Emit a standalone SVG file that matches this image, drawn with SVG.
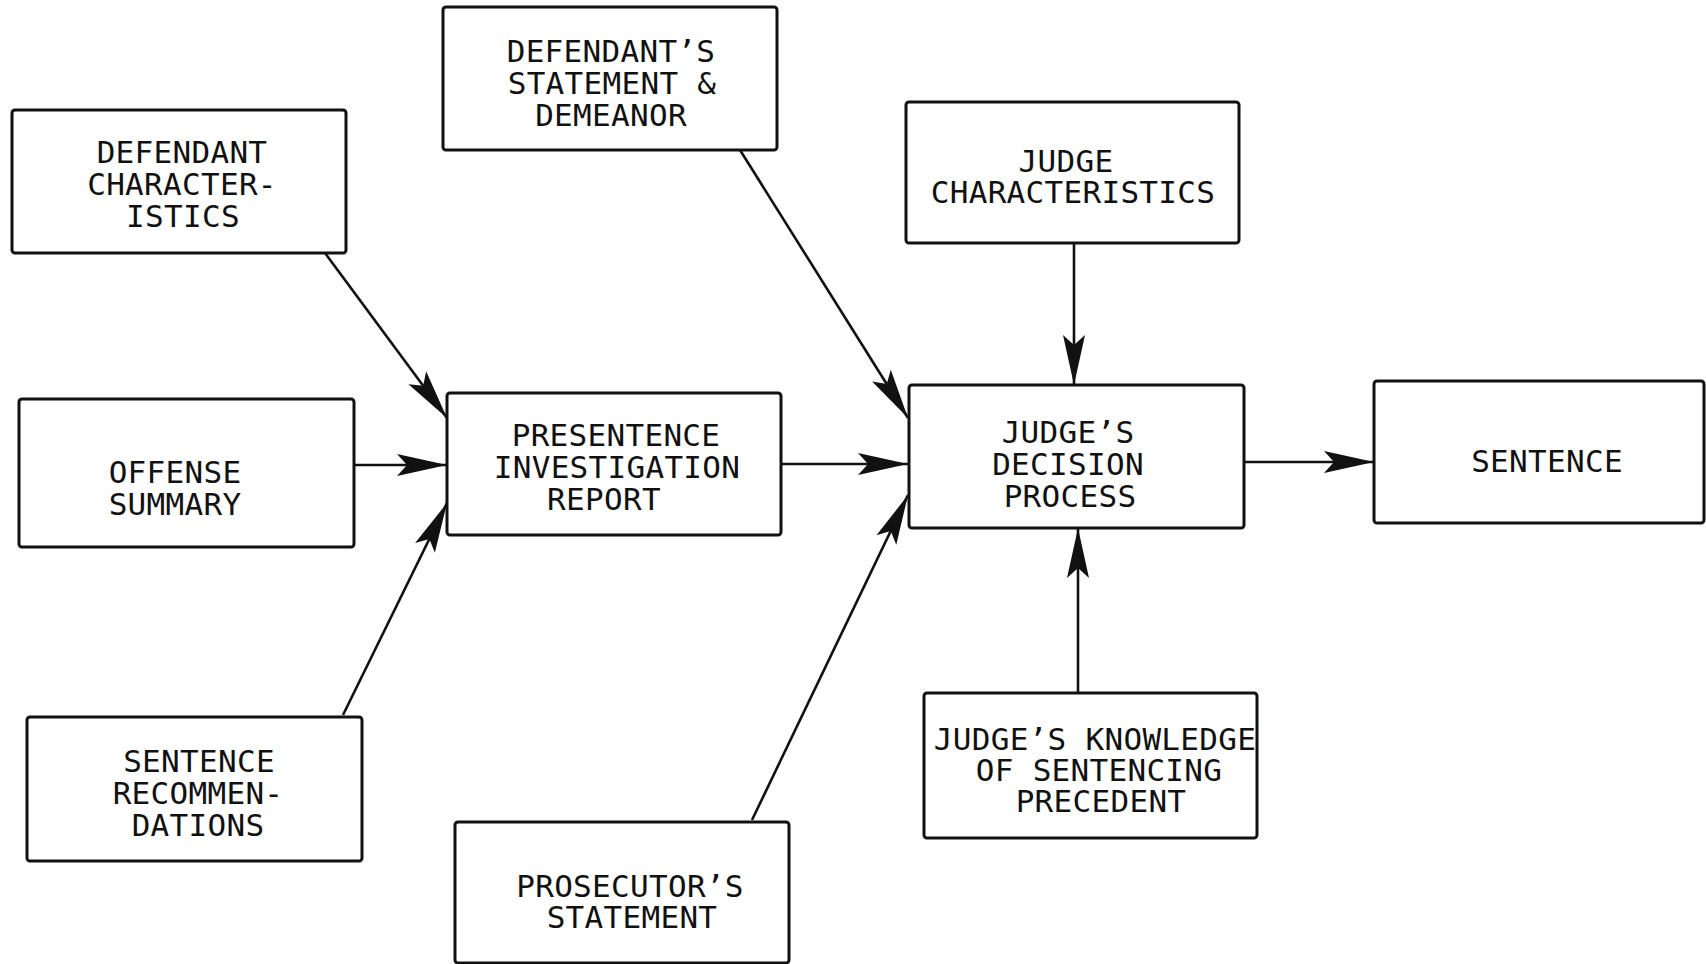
<svg xmlns="http://www.w3.org/2000/svg" width="1706" height="964" viewBox="0 0 1706 964">
<style>
.box{fill:#fff;stroke:#111;stroke-width:3;}
.t{font-family:"DejaVu Sans Mono","Liberation Mono",monospace;font-size:31px;fill:#111;text-anchor:middle;letter-spacing:0.3px;}
.c{stroke:#111;stroke-width:2.6;fill:none;marker-end:url(#ah);}
</style>
<defs>
<marker id="ah" markerUnits="userSpaceOnUse" markerWidth="52" markerHeight="22" refX="50" refY="11" orient="auto" overflow="visible">
<path d="M50,11 L0,0 L10,11 L0,22 Z" fill="#111"/>
</marker>
</defs>
<rect width="1706" height="964" fill="#fff"/>
<g id="connectors">
<line class="c" x1="325" y1="253" x2="447" y2="418"/>
<line class="c" x1="354" y1="465" x2="447" y2="465"/>
<line class="c" x1="343" y1="715" x2="447" y2="503"/>
<line class="c" x1="740" y1="150" x2="908" y2="418"/>
<line class="c" x1="781" y1="464" x2="908" y2="464"/>
<line class="c" x1="752" y1="820" x2="908" y2="495"/>
<line class="c" x1="1074" y1="243" x2="1074" y2="385"/>
<line class="c" x1="1078" y1="693" x2="1078" y2="528"/>
<line class="c" x1="1244" y1="462" x2="1374" y2="462"/>
</g>
<g id="defendant-characteristics">
<rect class="box" x="12" y="110" width="334" height="143" rx="3"/>
<text class="t" x="182" y="163">DEFENDANT</text>
<text class="t" x="182" y="195">CHARACTER-</text>
<text class="t" x="183" y="227">ISTICS</text>
</g>
<g id="offense-summary">
<rect class="box" x="19" y="399" width="335" height="148" rx="3"/>
<text class="t" x="175" y="483">OFFENSE</text>
<text class="t" x="175" y="515">SUMMARY</text>
</g>
<g id="sentence-recommendations">
<rect class="box" x="27" y="717" width="335" height="144" rx="3"/>
<text class="t" x="199" y="772">SENTENCE</text>
<text class="t" x="198" y="804">RECOMMEN-</text>
<text class="t" x="198" y="836">DATIONS</text>
</g>
<g id="defendants-statement">
<rect class="box" x="443" y="7" width="334" height="143" rx="3"/>
<text class="t" x="611" y="62">DEFENDANT’S</text>
<text class="t" x="612" y="94">STATEMENT &amp;</text>
<text class="t" x="611" y="126">DEMEANOR</text>
</g>
<g id="presentence-report">
<rect class="box" x="447" y="393" width="334" height="142" rx="3"/>
<text class="t" x="616" y="446">PRESENTENCE</text>
<text class="t" x="617" y="478">INVESTIGATION</text>
<text class="t" x="604" y="510">REPORT</text>
</g>
<g id="prosecutors-statement">
<rect class="box" x="455" y="822" width="334" height="141" rx="3"/>
<text class="t" x="630" y="897">PROSECUTOR’S</text>
<text class="t" x="632" y="928">STATEMENT</text>
</g>
<g id="judge-characteristics">
<rect class="box" x="906" y="102" width="333" height="141" rx="3"/>
<text class="t" x="1066" y="172">JUDGE</text>
<text class="t" x="1073" y="203">CHARACTERISTICS</text>
</g>
<g id="judges-decision-process">
<rect class="box" x="909" y="385" width="335" height="143" rx="3"/>
<text class="t" x="1068" y="443">JUDGE’S</text>
<text class="t" x="1068" y="475">DECISION</text>
<text class="t" x="1070" y="507">PROCESS</text>
</g>
<g id="judges-knowledge">
<rect class="box" x="924" y="693" width="333" height="145" rx="3"/>
<text class="t" x="1095" y="750">JUDGE’S KNOWLEDGE</text>
<text class="t" x="1099" y="781">OF SENTENCING</text>
<text class="t" x="1101" y="812">PRECEDENT</text>
</g>
<g id="sentence">
<rect class="box" x="1374" y="381" width="330" height="142" rx="3"/>
<text class="t" x="1547" y="472">SENTENCE</text>
</g>
</svg>
